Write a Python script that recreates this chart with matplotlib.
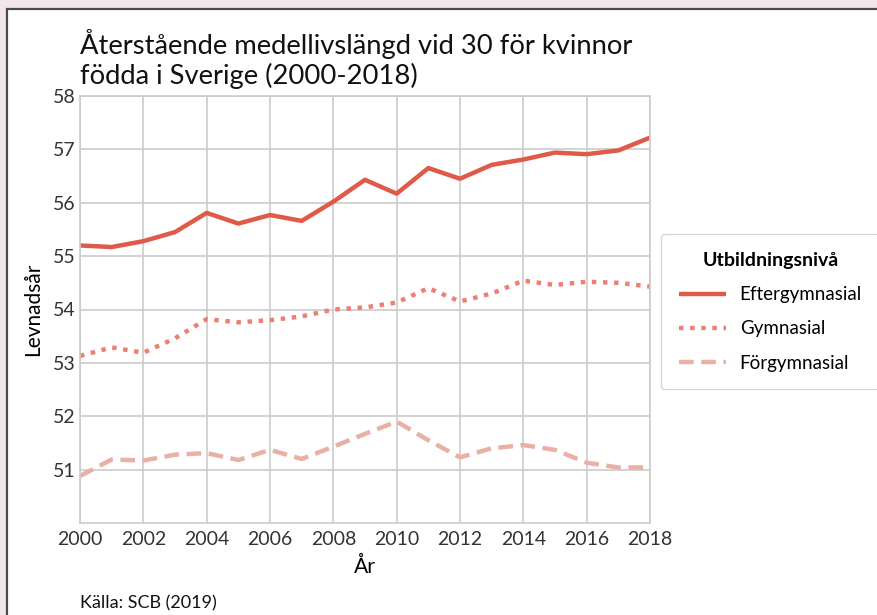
import matplotlib
matplotlib.use("Agg")
import matplotlib.pyplot as plt
from matplotlib.patches import Rectangle

plt.rcParams['font.family'] = ['Lato', 'DejaVu Sans']

years = list(range(2000, 2019))
efter = [55.20, 55.17, 55.28, 55.45, 55.81, 55.61, 55.77, 55.66, 56.02, 56.43,
         56.17, 56.65, 56.45, 56.71, 56.81, 56.94, 56.91, 56.98, 57.22]
gymn = [53.13, 53.29, 53.19, 53.46, 53.82, 53.76, 53.80, 53.87, 54.00, 54.04,
        54.13, 54.40, 54.15, 54.30, 54.54, 54.46, 54.52, 54.50, 54.43]
forgymn = [50.88, 51.19, 51.17, 51.28, 51.31, 51.18, 51.37, 51.20, 51.43, 51.67,
           51.90, 51.55, 51.23, 51.40, 51.46, 51.37, 51.13, 51.04, 51.04]
labels = ['Eftergymnasial', 'Gymnasial', 'Förgymnasial']

fig = plt.figure(figsize=(8.78, 6.15), dpi=100)
fig.patch.set_facecolor('#f2e6ea')
# white "page" with dark border, like the screenshot frame
fig.patches.append(Rectangle((0.008, -0.02), 1.1, 1.005, transform=fig.transFigure,
                             facecolor='white', edgecolor='#4a4a4a', lw=1.6, zorder=-10))

ax = fig.add_axes([80/878, 92/615, 570/878, 427/615])
ax.plot(years, efter, color='#e05a4a', lw=3.2, solid_capstyle='butt', label=labels[0])
ax.plot(years, gymn, color='#ee7f72', lw=3.2, dashes=(1, 1.5), dash_capstyle='butt', label=labels[1])
ax.plot(years, forgymn, color='#eab0a6', lw=3.2, dashes=(3.3, 1.7), dash_capstyle='butt', label=labels[2])

ax.set_xlim(2000, 2018)
ax.set_ylim(50, 58)
ax.set_xticks(range(2000, 2019, 2))
ax.set_yticks(range(51, 59))
ax.grid(True, color='#cccccc', lw=1.2)
ax.tick_params(length=0, labelsize=14, colors='#333333')
ax.tick_params(axis='x', pad=6)
ax.tick_params(axis='y', pad=3)
for s in ax.spines.values():
    s.set_color('#cccccc')
    s.set_linewidth(1.2)
ax.set_xlabel('År', fontsize=15, labelpad=6)
ax.set_ylabel('Levnadsår', fontsize=15, labelpad=7)

fig.text(80/878, 1 - 84/615, 'Återstående medellivslängd vid 30 för kvinnor\nfödda i Sverige (2000-2018)',
         fontsize=19.7, color='#111111', va='baseline', linespacing=1.2)
fig.text(80/878, 1 - 608/615, 'Källa: SCB (2019)', fontsize=13, color='#111111')

leg = fig.legend(loc='upper left', bbox_to_anchor=(661/878, 1 - 234/615), borderaxespad=0,
                 title='Utbildningsnivå', fontsize=13.5, handlelength=2.5,
                 frameon=True, borderpad=0.95, labelspacing=0.92, handletextpad=0.75)
leg.get_title().set_fontsize(14)
leg.get_title().set_fontweight('bold')
leg.get_frame().set_edgecolor('#cccccc')

fig.savefig('out.png', dpi=100)
